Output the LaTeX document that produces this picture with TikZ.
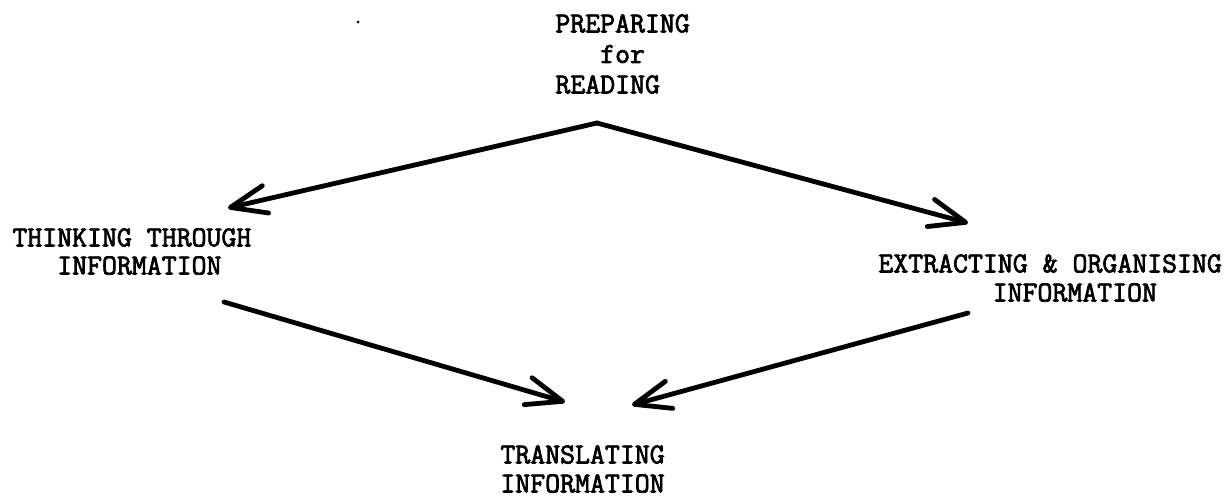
\documentclass[tikz,border=0pt]{standalone}
\usepackage{fontspec}
\newfontfamily\tw{Latin Modern Mono}[FakeBold=2.5]
\usetikzlibrary{arrows.meta}
% fixed height of the first line, so that north west sits a known distance above its baseline
\newcommand\firstline{\rule{0pt}{10pt}}

\begin{document}
\begin{tikzpicture}[x=0.5pt,y=-0.5pt,
  lbl/.style={anchor=north west, inner sep=0pt, align=left,
    font={\tw\fontsize{14.5pt}{#1}\selectfont}},
  lbl/.default=14.5pt,
  flow/.style={line width=2.4pt, line cap=round, line join=round,
    -{Straight Barb[length=18pt,width=14pt,line cap=round,line join=round]}}]

\useasboundingbox (0,0) rectangle (1231,497);

% labels
\node[lbl=15.25pt] (prep)    at (555,12)  {\firstline PREPARING\\\phantom{PRE}for\\READING};
\node[lbl=14pt]    (think)   at (12,226)  {\firstline THINKING THROUGH\\\phantom{THI}INFORMATION};
\node[lbl=14.5pt]  (extract) at (878,252) {\firstline EXTRACTING \& ORGANISING\\\hspace*{3.94em}INFORMATION};
\node[lbl=14.5pt]  (trans)   at (500,443) {\firstline TRANSLATING\\INFORMATION};

% connector ends
\coordinate (apex) at (597,123);
\coordinate (toThink) at (228,208);
\coordinate (toExtract) at (968,223);
\coordinate (fromThink) at (224,302);
\coordinate (fromExtract) at (968,313);
\coordinate (inTransL) at (565,402);
\coordinate (inTransR) at (632,405);

% connectors
\draw[flow] (apex) -- (toThink);
\draw[flow] (apex) -- (toExtract);
\draw[flow] (fromThink) -- (inTransL);
\draw[flow] (fromExtract) -- (inTransR);

% stray ink speck
\fill (358,22) circle (1.5);
\end{tikzpicture}
\end{document}
